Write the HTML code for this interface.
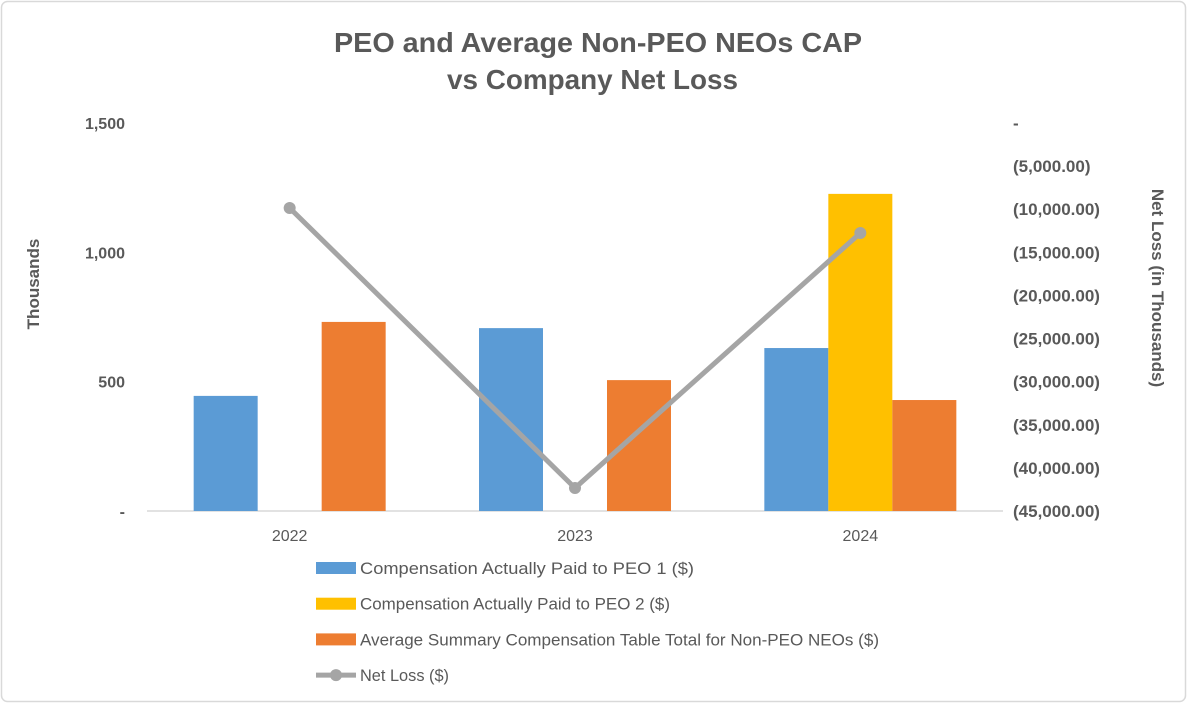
<!DOCTYPE html>
<html><head><meta charset="utf-8">
<style>
html,body{margin:0;padding:0;background:#fff;}
body{width:1188px;height:704px;overflow:hidden;font-family:"Liberation Sans",sans-serif;}
svg text{font-family:"Liberation Sans",sans-serif;}
</style></head>
<body>
<svg id="chart" width="1188" height="704" xmlns="http://www.w3.org/2000/svg">
<rect x="1.5" y="1.5" width="1184" height="700" rx="6" fill="#fff" stroke="#d9d9d9" stroke-width="1.5"/>
<text x="334" y="52" textLength="528" lengthAdjust="spacingAndGlyphs" font-size="28" font-weight="bold" fill="#595959">PEO and Average Non-PEO NEOs CAP</text>
<text x="447" y="89" textLength="291" lengthAdjust="spacingAndGlyphs" font-size="28" font-weight="bold" fill="#595959">vs Company Net Loss</text>
<text transform="translate(39,284) rotate(-90)" text-anchor="middle" font-size="17" font-weight="bold" fill="#595959">Thousands</text>
<text transform="translate(1152,288) rotate(90)" text-anchor="middle" font-size="17" font-weight="bold" fill="#595959">Net Loss (in Thousands)</text>
<g id="plot"></g>
<g id="legend"></g>
</svg>
<script>
const categories=["2022","2023","2024"];
const peo1=[445,707,630];
const peo2=[0,0,1226];
const nonPeo=[731,506,429];
const netLoss=[-9860,-42330,-12760];
const leftTicks=[0,500,1000,1500];
const leftTickLabels=["-","500","1,000","1,500"];
const rightTicks=[0,-5000,-10000,-15000,-20000,-25000,-30000,-35000,-40000,-45000];
const rightTickLabels=["-","(5,000.00)","(10,000.00)","(15,000.00)","(20,000.00)","(25,000.00)","(30,000.00)","(35,000.00)","(40,000.00)","(45,000.00)"];
const legendLabels=["Compensation Actually Paid to PEO 1 ($)","Compensation Actually Paid to PEO 2 ($)","Average Summary Compensation Table Total for Non-PEO NEOs ($)","Net Loss ($)"];
const legendLens=[334,310,519,89];

const NS="http://www.w3.org/2000/svg";
const X0=147,X1=1003,Y0=511,Y1=123;
const catW=(X1-X0)/categories.length;
const yL=v=>Y0-(v/1500)*(Y0-Y1);
const yR=v=>Y1+(-v/45000)*(Y0-Y1);
const xC=i=>X0+catW*(i+0.5);
const plot=document.getElementById('plot');
function mk(tag,attrs,parent){const e=document.createElementNS(NS,tag);for(const k in attrs)e.setAttribute(k,attrs[k]);(parent||plot).appendChild(e);return e;}

leftTicks.forEach((v,i)=>{
  const t=mk('text',{x:125,y:yL(v)+6,'text-anchor':'end','font-size':16,'font-weight':'bold',fill:'#595959'});
  t.textContent=leftTickLabels[i];
  
  
});
rightTicks.forEach((v,i)=>{
  const t=mk('text',{x:1013,y:yR(v)+6,'text-anchor':'start','font-size':17,'font-weight':'bold',fill:'#595959'});
  t.textContent=rightTickLabels[i];
  
  
});
const ax=mk('line',{x1:X0,x2:X1,y1:Y0,y2:Y0,stroke:'#d9d9d9','stroke-width':1.5});



const barW=64;
const series=[[peo1,'#5b9bd5','bar-peo1'],[peo2,'#ffc000','bar-peo2'],[nonPeo,'#ed7d31','bar-non-peo']];
categories.forEach((c,i)=>{
  series.forEach((s,j)=>{
    const v=s[0][i]; if(!v) return;
    const x=xC(i)-1.5*barW+j*barW;
    const r=mk('rect',{x:x,y:yL(v),width:barW,height:Y0-yL(v),fill:s[1]});
    
    
  });
  const t=mk('text',{x:xC(i),y:541,'text-anchor':'middle','font-size':16,fill:'#595959'});
  t.textContent=c;
  
  
});
const pts=netLoss.map((v,i)=>xC(i)+','+yR(v)).join(' ');
const pl=mk('polyline',{points:pts,fill:'none',stroke:'#a5a5a5','stroke-width':5,'stroke-linejoin':'round'});


netLoss.forEach((v,i)=>{
  const p=mk('circle',{cx:xC(i),cy:yR(v),r:6,fill:'#a5a5a5'});
  
  
});

const lg=document.getElementById('legend');
const colors=['#5b9bd5','#ffc000','#ed7d31','#a5a5a5'];
legendLabels.forEach((l,i)=>{
  const y=568+i*35.7;
  if(i<3){
    const r=mk('rect',{x:316,y:y-6,width:40,height:12,fill:colors[i]},lg);
    
    
  } else {
    const ln=mk('line',{x1:316,x2:356,y1:y,y2:y,stroke:colors[i],'stroke-width':5},lg);
    
    
    const c=mk('circle',{cx:336,cy:y,r:6,fill:colors[i]},lg);
    
    
  }
  const t=mk('text',{x:360,y:y+6,'font-size':17,fill:'#595959',textLength:legendLens[i],lengthAdjust:'spacingAndGlyphs'},lg);
  t.textContent=l;
  
  
});
</script>
</body></html>
